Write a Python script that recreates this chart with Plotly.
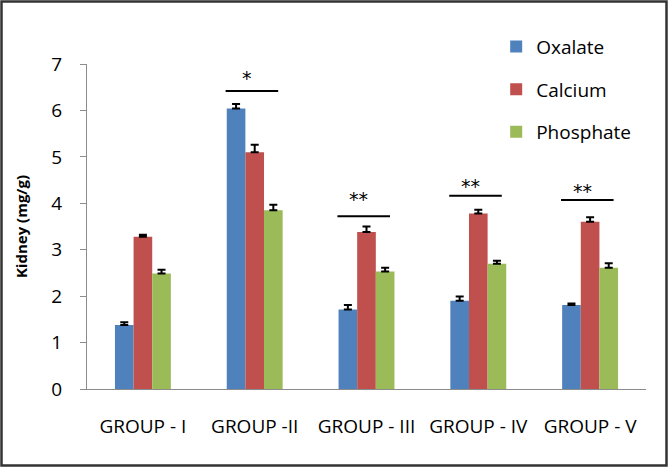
import plotly.graph_objects as go

groups = ["GROUP - I", "GROUP -II", "GROUP - III", "GROUP - IV", "GROUP - V"]
oxalate = [1.38, 6.04, 1.71, 1.90, 1.81]
oxalate_err = [0.06, 0.10, 0.10, 0.09, 0.03]
calcium = [3.28, 5.10, 3.38, 3.78, 3.60]
calcium_err = [0.04, 0.16, 0.12, 0.08, 0.10]
phosphate = [2.49, 3.85, 2.53, 2.70, 2.61]
phosphate_err = [0.08, 0.12, 0.08, 0.06, 0.10]
sig_labels = ["", "*", "**", "**", "**"]
sig_line_level = [None, 6.42, 3.72, 4.16, 4.07]
sig_text_level = [None, 6.70, 4.10, 4.38, 4.26]

colors = ["#4F81BD", "#C0504D", "#9BBB59"]
font = "Open Sans"

fig = go.Figure()
for name, vals, errs, col in [("Oxalate", oxalate, oxalate_err, colors[0]),
                              ("Calcium", calcium, calcium_err, colors[1]),
                              ("Phosphate", phosphate, phosphate_err, colors[2])]:
    fig.add_trace(go.Bar(
        x=groups, y=vals, name=name, marker_color=col, marker_line_width=0,
        legendgroup=name,
        error_y=dict(type="data", array=errs, arrayminus=[0]*len(errs), symmetric=False,
                     color="black", thickness=2, width=4),
    ))

for i, (lab, ly, ty) in enumerate(zip(sig_labels, sig_line_level, sig_text_level)):
    if not lab:
        continue
    fig.add_shape(type="line", xref="x", yref="y", x0=i - 0.26, x1=i + 0.21,
                  y0=ly, y1=ly, line=dict(color="black", width=2))
    fig.add_annotation(x=i - 0.07, y=ty, xref="x", yref="y", text=lab, showarrow=False,
                       font=dict(family="DejaVu Sans", size=19, color="black"))

L, R, T, B = 87, 22, 64, 78
W, H = 668, 467
pw, ph = W - L - R, H - T - B
fig.add_shape(type="rect", xref="paper", yref="paper",
              x0=(-L + 1.5) / pw, x1=(W - L - 1.5) / pw,
              y0=(-B + 1.5) / ph, y1=(H - B - 1.5) / ph,
              line=dict(color="#333333", width=2.5))

fig.update_layout(
    width=W, height=H, margin=dict(l=L, r=R, t=T, b=B, autoexpand=False),
    plot_bgcolor="white", paper_bgcolor="white",
    barmode="group", bargap=0.5, bargroupgap=0,
    font=dict(family=font, color="black"),
    legend=dict(x=0.732, y=1.112, xanchor="left", yanchor="top", traceorder="grouped",
                tracegroupgap=15, font=dict(size=19, family=font), bgcolor="rgba(0,0,0,0)",
                itemwidth=30),
    showlegend=True,
)
fig.update_xaxes(showline=True, linecolor="#8c8c8c", linewidth=1, ticks="",
                 tickfont=dict(size=19, family=font), ticklabelstandoff=20,
                 showgrid=False)
fig.update_yaxes(range=[0, 7], dtick=1, showline=True, linecolor="#8c8c8c", linewidth=1,
                 ticks="outside", ticklen=6, tickcolor="#8c8c8c",
                 tickfont=dict(size=19, family=font), ticklabelstandoff=14,
                 showgrid=False, zeroline=False,
                 title=dict(text="<b>Kidney (mg/g)</b>", font=dict(size=15, family=font), standoff=20))

fig.write_html("out.html", config={"displayModeBar": False},
               post_script="document.body.style.margin='0';document.documentElement.style.overflow='hidden';")
